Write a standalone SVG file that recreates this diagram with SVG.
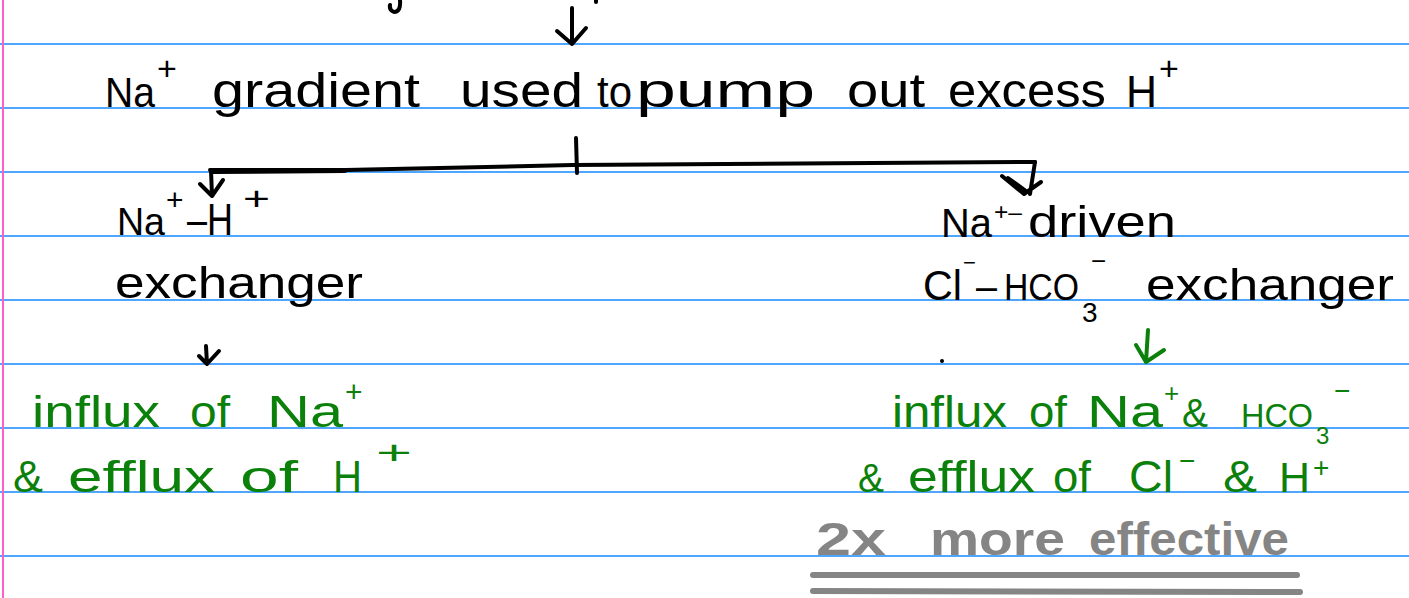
<svg xmlns="http://www.w3.org/2000/svg" width="1409" height="598" viewBox="0 0 1409 598">
<style>
.rule{stroke:#4fa6ff;stroke-width:2}
.margin{stroke:#ff5fc8;stroke-width:2}
text{font-family:"Liberation Sans","DejaVu Sans",sans-serif}
.k{fill:#000;font-size:48px}
.k2{fill:#000;font-size:44px}
.gr{fill:#0b800b;font-size:44px}
.gy{fill:#858585;font-size:46px;font-weight:bold}
.ln{fill:none;stroke:#000;stroke-width:4;stroke-linecap:round;stroke-linejoin:round}
.lg{fill:none;stroke:#0b800b;stroke-width:4;stroke-linecap:round;stroke-linejoin:round}
.ul{fill:none;stroke:#858585;stroke-width:6;stroke-linecap:round}
</style>
<rect width="1409" height="598" fill="#fff"/>
<g id="paper">
<line class="rule" x1="0" y1="44" x2="1409" y2="44"/>
<line class="rule" x1="0" y1="108" x2="1409" y2="108"/>
<line class="rule" x1="0" y1="172" x2="1409" y2="172"/>
<line class="rule" x1="0" y1="236" x2="1409" y2="236"/>
<line class="rule" x1="0" y1="300" x2="1409" y2="300"/>
<line class="rule" x1="0" y1="364" x2="1409" y2="364"/>
<line class="rule" x1="0" y1="428" x2="1409" y2="428"/>
<line class="rule" x1="0" y1="492" x2="1409" y2="492"/>
<line class="rule" x1="0" y1="556" x2="1409" y2="556"/>
<line class="margin" x1="3" y1="0" x2="3" y2="598"/>
<path class="ln" d="M400,0 Q401,12 394,12 Q389,10 390,5"/>
<path class="ln" d="M596,0 L596,2"/>
</g>
<g id="connectors">
<path class="ln" d="M572,8 L572,44 M557,31 L572,44 L586,28"/>
<path class="ln" d="M210,170 L345,170 L573,165 L1035,162"/>
<path class="ln" d="M212,172 L345,171" stroke-width="6"/>
<path class="ln" d="M576,138 L577,173" stroke-width="6"/>
<path class="ln" d="M211,170 L212,196 M200,184 L212,196 L223,180"/>
<path class="ln" d="M1035,162 L1030,194 M1002,176 L1024,194 L1041,182 M1008,178 L1026,191" stroke-width="5"/>
<path class="ln" d="M206,346 L207,364 M199,356 L207,364 L219,351" stroke-width="3"/>
<path class="lg" d="M1148,330 L1146,362 M1136,345 L1146,362 L1164,350" stroke-width="3"/>
</g>
<g id="header">
<text class="k" y="107"><tspan x="105" font-size="42" textLength="50" lengthAdjust="spacingAndGlyphs">Na</tspan><tspan x="157" y="80" font-size="34">+</tspan> <tspan x="212" y="107" textLength="208" lengthAdjust="spacingAndGlyphs">gradient</tspan> <tspan x="460" textLength="123" lengthAdjust="spacingAndGlyphs">used</tspan> <tspan x="597" font-size="44" textLength="35" lengthAdjust="spacingAndGlyphs">to</tspan> <tspan x="636" textLength="179" lengthAdjust="spacingAndGlyphs">pump</tspan> <tspan x="847" textLength="78" lengthAdjust="spacingAndGlyphs">out</tspan> <tspan x="948" textLength="158" lengthAdjust="spacingAndGlyphs">excess</tspan> <tspan x="1126" font-size="44" textLength="31" lengthAdjust="spacingAndGlyphs">H</tspan><tspan x="1159" y="80" font-size="34">+</tspan></text>
</g>
<g id="left-exchanger">
<text class="k2" y="235"><tspan x="117" font-size="38" textLength="48" lengthAdjust="spacingAndGlyphs">Na</tspan><tspan x="166" y="210" font-size="30">+</tspan><tspan x="187" y="235" textLength="46" lengthAdjust="spacingAndGlyphs">–H</tspan><tspan x="243" y="210" font-size="34" textLength="27" lengthAdjust="spacingAndGlyphs">+</tspan></text>
<text class="k2" x="115" y="298" textLength="248" lengthAdjust="spacingAndGlyphs">exchanger</text>
</g>
<g id="right-exchanger">
<text class="k2" y="237"><tspan x="941" font-size="40" textLength="51" lengthAdjust="spacingAndGlyphs">Na</tspan><tspan x="994" y="220" font-size="24" textLength="28" lengthAdjust="spacingAndGlyphs">+–</tspan><tspan x="1028" y="237" textLength="148" lengthAdjust="spacingAndGlyphs">driven</tspan></text>
<text class="k2" y="300"><tspan x="923" font-size="42" textLength="39" lengthAdjust="spacingAndGlyphs">Cl</tspan><tspan x="963" y="270" font-size="22">−</tspan><tspan x="976" y="300" font-size="40" textLength="21" lengthAdjust="spacingAndGlyphs">–</tspan><tspan x="1004" font-size="36" textLength="75" lengthAdjust="spacingAndGlyphs">HCO</tspan><tspan x="1082" y="322" font-size="28">3</tspan><tspan x="1091" y="270" font-size="26">−</tspan> <tspan x="1146" y="300" textLength="248" lengthAdjust="spacingAndGlyphs">exchanger</tspan></text>
<circle cx="942" cy="361" r="2" fill="#000"/>
</g>
<g id="left-effect">
<text class="gr" y="427"><tspan x="32" textLength="128" lengthAdjust="spacingAndGlyphs">influx</tspan> <tspan x="190" textLength="40" lengthAdjust="spacingAndGlyphs">of</tspan> <tspan x="267" textLength="76" lengthAdjust="spacingAndGlyphs">Na</tspan><tspan x="345" y="402" font-size="30">+</tspan></text>
<text class="gr" y="492"><tspan x="13" textLength="30" lengthAdjust="spacingAndGlyphs">&amp;</tspan> <tspan x="68" textLength="147" lengthAdjust="spacingAndGlyphs">efflux</tspan> <tspan x="240" textLength="58" lengthAdjust="spacingAndGlyphs">of</tspan> <tspan x="333" textLength="29" lengthAdjust="spacingAndGlyphs">H</tspan><tspan x="376" y="464" font-size="34" textLength="36" lengthAdjust="spacingAndGlyphs">+</tspan></text>
</g>
<g id="right-effect">
<text class="gr" y="427"><tspan x="892" textLength="115" lengthAdjust="spacingAndGlyphs">influx</tspan> <tspan x="1029" textLength="38" lengthAdjust="spacingAndGlyphs">of</tspan> <tspan x="1087" textLength="76" lengthAdjust="spacingAndGlyphs">Na</tspan><tspan x="1164" y="402" font-size="26">+</tspan> <tspan x="1182" y="427" font-size="40" textLength="26" lengthAdjust="spacingAndGlyphs">&amp;</tspan> <tspan x="1241" font-size="34" textLength="72" lengthAdjust="spacingAndGlyphs">HCO</tspan><tspan x="1316" y="444" font-size="24">3</tspan><tspan x="1334" y="400" font-size="28">−</tspan></text>
<text class="gr" y="492"><tspan x="858" font-size="40" textLength="26" lengthAdjust="spacingAndGlyphs">&amp;</tspan> <tspan x="908" textLength="127" lengthAdjust="spacingAndGlyphs">efflux</tspan> <tspan x="1053" textLength="38" lengthAdjust="spacingAndGlyphs">of</tspan> <tspan x="1129" textLength="44" lengthAdjust="spacingAndGlyphs">Cl</tspan><tspan x="1179" y="470" font-size="28">−</tspan> <tspan x="1223" y="492" textLength="34" lengthAdjust="spacingAndGlyphs">&amp;</tspan> <tspan x="1279" font-size="42" textLength="31" lengthAdjust="spacingAndGlyphs">H</tspan><tspan x="1313" y="477" font-size="28">+</tspan></text>
</g>
<g id="note">
<text class="gy" y="555"><tspan x="816" textLength="70" lengthAdjust="spacingAndGlyphs">2x</tspan> <tspan x="930" textLength="135" lengthAdjust="spacingAndGlyphs">more</tspan> <tspan x="1089" textLength="200" lengthAdjust="spacingAndGlyphs">effective</tspan></text>
<path class="ul" d="M813,575 L1297,575"/>
<path class="ul" d="M813,591 L1300,592"/>
</g>
</svg>
